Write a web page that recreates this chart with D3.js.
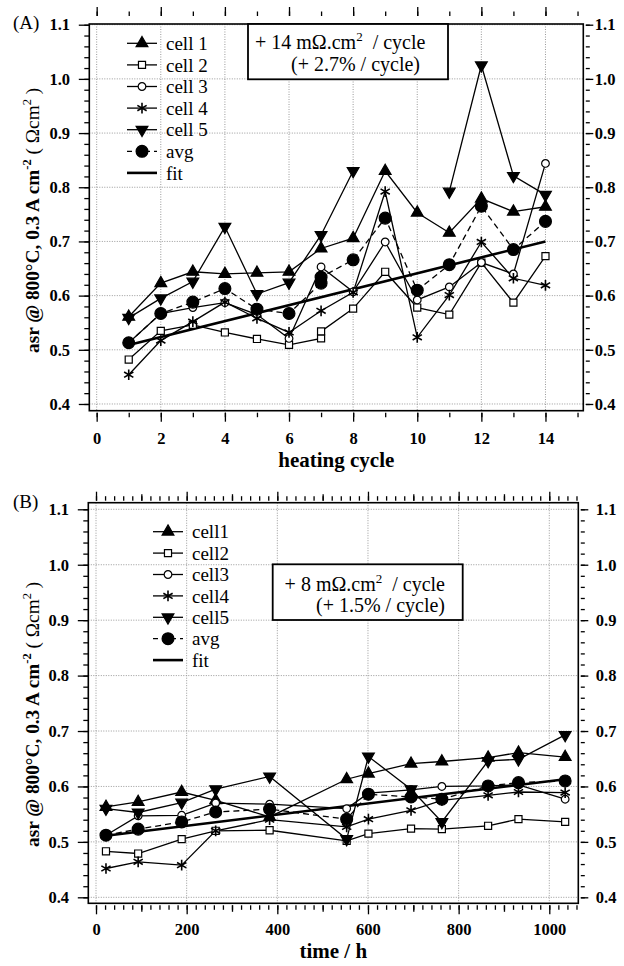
<!DOCTYPE html>
<html>
<head>
<meta charset="utf-8">
<script src="https://cdn.jsdelivr.net/npm/d3@7"></script>
<style>
  body { margin: 0; background: #fff; }
  svg { display: block; font-family: "Liberation Serif", "Times New Roman", serif; }
</style>
</head>
<body>
<div id="chart"></div>
<script>
// (A) asr against heating cycle
const cyclesA = [1, 2, 3, 4, 5, 6, 7, 8, 9, 10, 11, 12, 13, 14];
const cyclesA7 = [1, 2, 3, 4, 5, 6, 7, 7, 8, 9, 10, 11, 12, 13, 14]; // cycle 7 read twice
const cell1A = [0.561, 0.623, 0.644, 0.640, 0.642, 0.644, 0.687, 0.706, 0.830, 0.753, 0.716, 0.779, 0.755, 0.764];
const cell2A = [0.482, 0.535, 0.546, 0.532, 0.520, 0.509, 0.521, 0.534, 0.576, 0.644, 0.578, 0.565, 0.661, 0.587, 0.673];
const cell3A = [0.513, 0.567, 0.578, 0.587, 0.565, 0.521, 0.653, 0.607, 0.699, 0.592, 0.616, 0.661, 0.640, 0.844];
const cell4A = [0.454, 0.517, 0.552, 0.588, 0.558, 0.532, 0.572, 0.606, 0.792, 0.523, 0.601, 0.699, 0.632, 0.619];
const cell5A = [0.559, 0.595, 0.626, 0.727, 0.603, 0.624, 0.712, 0.830, null, null, 0.792, 1.025, 0.821, 0.786];
const avgA = [0.513, 0.567, 0.588, 0.613, 0.575, 0.567, 0.623, 0.634, 0.666, 0.743, 0.610, 0.657, 0.765, 0.685, 0.737];
const fitCyclesA = [1, 14];
const fitA = [0.509, 0.700];

// (B) asr against time
const hoursB = [22, 93, 189, 264, 383, 553, 601, 695, 763, 865, 932, 1035];
const cell1B = [0.563, 0.572, 0.590, 0.575, 0.545, 0.613, 0.623, 0.641, 0.645, 0.652, 0.661, 0.653];
const cell2B = [0.483, 0.479, 0.505, 0.520, 0.521, 0.502, 0.515, 0.524, 0.523, 0.529, 0.541, 0.536];
const cell3B = [0.512, 0.547, 0.548, 0.570, 0.568, 0.560, 0.588, 0.594, 0.600, 0.601, 0.603, 0.577];
const cell4B = [0.452, 0.464, 0.458, 0.520, 0.540, 0.527, 0.541, 0.557, 0.575, 0.584, 0.590, 0.589];
const cell5B = [0.560, 0.553, 0.571, 0.595, 0.618, 0.505, 0.654, 0.595, 0.536, 0.646, 0.649, 0.693];
const avgB = [0.512, 0.523, 0.536, 0.554, 0.559, 0.541, 0.586, 0.581, 0.577, 0.601, 0.607, 0.610];
const fitHoursB = [22, 1035];
const fitB = [0.511, 0.613];

const legendA = ["cell 1", "cell 2", "cell 3", "cell 4", "cell 5", "avg", "fit"];
const legendB = ["cell1", "cell2", "cell3", "cell4", "cell5", "avg", "fit"];
const asrTicks = [0.4, 0.5, 0.6, 0.7, 0.8, 0.9, 1.0, 1.1];

const serif = '"Liberation Serif", "Times New Roman", serif';
const svg = d3.select("#chart").append("svg").attr("width", 624).attr("height", 966);

const markers = {
  up: {type: d3.symbolTriangle, size: 60, fill: "#000", rot: 0, sw: 1.2},
  square: {type: d3.symbolSquare, size: 50, fill: "#fff", rot: 0, sw: 1.2},
  circle: {type: d3.symbolCircle, size: 46, fill: "#fff", rot: 0, sw: 1.2},
  star: {type: d3.symbolAsterisk, size: 80, fill: "none", rot: 0, sw: 1.6},
  down: {type: d3.symbolTriangle, size: 60, fill: "#000", rot: 180, sw: 1.2},
  dot: {type: d3.symbolCircle, size: 110, fill: "#000", rot: 0, sw: 1.2}
};
const seriesKeys = ["up", "square", "circle", "star", "down", "dot"];

function drawMarker(g, key, px, py) {
  const m = markers[key];
  g.append("path")
    .attr("d", d3.symbol(m.type, m.size)())
    .attr("transform", `translate(${px},${py}) rotate(${m.rot})`)
    .attr("fill", m.fill)
    .attr("stroke", "#000")
    .attr("stroke-width", m.sw);
}

function ticksOnly(axis, values, size) {
  return axis.tickValues(values).tickSize(size).tickFormat("");
}

function panel(p) {
  const x = d3.scaleLinear().domain(p.xDomain).range([p.left, p.right]);
  const y = d3.scaleLinear().domain(p.yDomain).range([p.bottom, p.top]);
  const g = svg.append("g");

  // dotted grid
  const grid = g.append("g").attr("stroke", "#999").attr("stroke-width", 1).attr("stroke-dasharray", "1,1.5");
  grid.selectAll(".gx").data(p.xMajor).join("line")
    .attr("x1", d => x(d)).attr("x2", d => x(d)).attr("y1", p.top).attr("y2", p.bottom);
  grid.selectAll(".gy").data(asrTicks).join("line")
    .attr("y1", d => y(d)).attr("y2", d => y(d)).attr("x1", p.left).attr("x2", p.right);

  // axes (ticks outside the frame)
  const tickFont = g => g.selectAll("text").attr("font-size", 16.5).attr("font-weight", "bold")
    .attr("font-family", serif).attr("fill", "#000");
  const clean = g => g.call(s => s.select(".domain").remove()).attr("font-family", serif);
  const yMinor = d3.range(20, 56).map(d => d / 50).filter(d => d >= p.yDomain[0] && d <= p.yDomain[1]);

  g.append("g").attr("transform", `translate(${p.left},0)`)
    .call(ticksOnly(d3.axisLeft(y), yMinor, 5)).call(clean);
  g.append("g").attr("transform", `translate(${p.left},0)`)
    .call(d3.axisLeft(y).tickValues(asrTicks).tickSize(10.5).tickPadding(8.8).tickFormat(d3.format(".1f")))
    .call(clean).call(tickFont);
  g.append("g").attr("transform", `translate(${p.right + 2.5},0)`)
    .call(ticksOnly(d3.axisRight(y), yMinor, 4)).call(clean);
  g.append("g").attr("transform", `translate(${p.right + 2.5},0)`)
    .call(d3.axisRight(y).tickValues(asrTicks).tickSize(7.5).tickPadding(p.rightPad).tickFormat(d3.format(".1f")))
    .call(clean).call(tickFont);

  [[d3.axisBottom, p.bottom + 2, 1], [d3.axisTop, p.top - p.topGap, -1]].forEach(([ax, ty, side]) => {
    g.append("g").attr("transform", `translate(0,${ty})`)
      .call(ticksOnly(ax(x), p.xMinor, 4.5)).call(clean);
    if (p.xMid) g.append("g").attr("transform", `translate(0,${ty})`)
      .call(ticksOnly(ax(x), p.xMid, 6.5)).call(clean);
    const major = g.append("g").attr("transform", `translate(0,${ty})`)
      .call(ax(x).tickValues(p.xMajor).tickSize(9).tickPadding(p.xPad).tickFormat(side > 0 ? d3.format("d") : ""))
      .call(clean);
    if (side > 0) major.call(tickFont);
  });
  g.selectAll(".tick line").attr("stroke", "#000").attr("stroke-width", 1.3);

  // data
  const line = d3.line().defined(d => d[1] != null).x(d => x(d[0])).y(d => y(d[1]));
  p.series.forEach(s => {
    g.append("path")
      .attr("d", line(d3.zip(s.x, s.y)))
      .attr("fill", "none").attr("stroke", "#000").attr("stroke-width", 1.3)
      .attr("stroke-dasharray", s.dash || null);
  });
  g.append("path")
    .attr("d", line(d3.zip(p.fit.x, p.fit.y)))
    .attr("fill", "none").attr("stroke", "#000").attr("stroke-width", 2.6);
  p.series.forEach((s, i) => {
    d3.zip(s.x, s.y).filter(d => d[1] != null)
      .forEach(d => drawMarker(g, seriesKeys[i], x(d[0]), y(d[1])));
  });

  // frame
  g.append("rect")
    .attr("x", p.left).attr("y", p.top)
    .attr("width", p.right - p.left).attr("height", p.bottom - p.top)
    .attr("fill", "none").attr("stroke", "#000").attr("stroke-width", 1.6);

  // legend
  const lg = g.append("g");
  p.legend.forEach((label, i) => {
    const ly = p.legendY + i * p.legendStep;
    lg.append("line")
      .attr("x1", p.legendX).attr("x2", p.legendX + 30).attr("y1", ly).attr("y2", ly)
      .attr("stroke", "#000").attr("stroke-width", i === 6 ? 2.6 : 1.3)
      .attr("stroke-dasharray", i === 5 ? "5,4" : null);
    if (i < 6) drawMarker(lg, seriesKeys[i], p.legendX + 15, ly);
    lg.append("text")
      .attr("x", p.legendX + p.legendText).attr("y", ly).attr("dy", "0.35em")
      .attr("font-size", 19).text(label);
  });

  // slope annotation
  const a = p.note;
  g.append("rect")
    .attr("x", a.x0).attr("y", a.y0).attr("width", a.x1 - a.x0).attr("height", a.y1 - a.y0)
    .attr("fill", "#fff").attr("stroke", "#000").attr("stroke-width", 1.8);
  const t1 = g.append("text").attr("x", a.l1x).attr("y", a.l1y).attr("text-anchor", a.anchor)
    .attr("font-size", 20).style("white-space", "pre");
  t1.append("tspan").text(a.line1);
  t1.append("tspan").attr("dy", -8).attr("font-size", 13).text("2");
  t1.append("tspan").attr("dy", 8).text("  / cycle");
  g.append("text").attr("x", a.l2x).attr("y", a.l2y).attr("text-anchor", a.anchor)
    .attr("font-size", 20).style("white-space", "pre").text(a.line2);

  // titles
  g.append("text").attr("x", 13).attr("y", p.top + 5).attr("font-size", 19).text(p.tag);
  const yt = g.append("text")
    .attr("transform", `translate(38.5,${p.yTitleStart}) rotate(-90)`)
    .attr("font-size", 19.3).attr("font-weight", "bold").style("white-space", "pre");
  yt.append("tspan").text("asr @ 800°C, 0.3 A cm");
  yt.append("tspan").attr("dy", -7.5).attr("font-size", 12.5).text("-2");
  yt.append("tspan").attr("dy", 7.5).attr("font-weight", "normal").text(" ( Ωcm");
  yt.append("tspan").attr("dy", -7.5).attr("font-size", 12.5).attr("font-weight", "normal").text("2");
  yt.append("tspan").attr("dy", 7.5).attr("font-weight", "normal").text(" )");
  g.append("text")
    .attr("x", (p.left + p.right) / 2).attr("y", p.xTitleY).attr("text-anchor", "middle")
    .attr("font-size", 21).attr("font-weight", "bold").text(p.xTitle);
}

panel({
  tag: "(A)", xTitle: "heating cycle",
  left: 89.3, right: 583.3, top: 24, bottom: 410.7, topGap: 8, rightPad: 1.5, xPad: 10.5,
  xDomain: [-0.23, 15.18], yDomain: [0.3876, 1.1013],
  xMajor: d3.range(0, 15, 2), xMinor: d3.range(0, 16, 1), xMid: null,
  series: [
    {x: cyclesA, y: cell1A}, {x: cyclesA7, y: cell2A}, {x: cyclesA, y: cell3A},
    {x: cyclesA, y: cell4A}, {x: cyclesA, y: cell5A}, {x: cyclesA7, y: avgA, dash: "6,4"}
  ],
  fit: {x: fitCyclesA, y: fitA},
  legend: legendA, legendX: 127, legendText: 39, legendY: 43.3, legendStep: 21.6,
  note: {x0: 248, y0: 24, x1: 448, y1: 79.3, anchor: "start",
         l1x: 255, l1y: 49, l2x: 291, l2y: 71,
         line1: "+ 14 mΩ.cm", line2: "(+ 2.7% / cycle)"},
  yTitleStart: 353, xTitleY: 467
});

panel({
  tag: "(B)", xTitle: "time / h",
  left: 88.3, right: 578.3, top: 502.7, bottom: 903.3, topGap: 2, rightPad: 7.5, xPad: 8.5,
  xDomain: [-17, 1064], yDomain: [0.3892, 1.1119],
  xMajor: d3.range(0, 1001, 200), xMinor: d3.range(0, 1061, 20), xMid: d3.range(100, 1001, 200),
  series: [
    {x: hoursB, y: cell1B}, {x: hoursB, y: cell2B}, {x: hoursB, y: cell3B},
    {x: hoursB, y: cell4B}, {x: hoursB, y: cell5B}, {x: hoursB, y: avgB, dash: "6,4"}
  ],
  fit: {x: fitHoursB, y: fitB},
  legend: legendB, legendX: 153, legendText: 39, legendY: 531.7, legendStep: 21.4,
  note: {x0: 272.7, y0: 564.3, x1: 462.7, y1: 620, anchor: "end",
         l1x: 445, l1y: 591, l2x: 445, l2y: 612,
         line1: "+ 8 mΩ.cm", line2: "(+ 1.5% / cycle)"},
  yTitleStart: 847, xTitleY: 958
});
</script>
</body>
</html>
